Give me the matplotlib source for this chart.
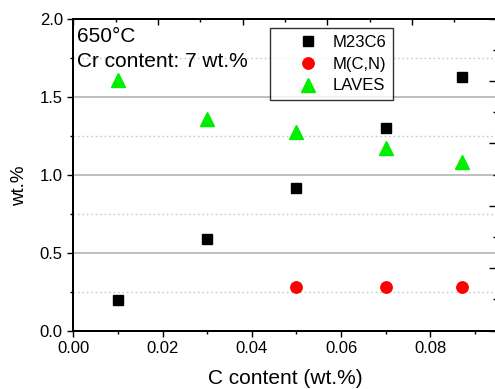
import matplotlib
matplotlib.use("Agg")
import matplotlib.pyplot as plt
from matplotlib.ticker import MultipleLocator, NullFormatter

plt.rcParams['font.family'] = ['Liberation Sans', 'DejaVu Sans']

c_all = [0.01, 0.03, 0.05, 0.07, 0.087]
m23c6 = [0.197, 0.586, 0.915, 1.30, 1.628]
c_mcn = [0.05, 0.07, 0.087]
mcn = [0.278, 0.278, 0.278]
laves = [1.61, 1.36, 1.272, 1.168, 1.08]

fig = plt.figure(figsize=(4.95, 3.89), dpi=100)
ax = fig.add_axes([0.148, 0.150, 0.855, 0.802])

ax.set_xlim(0, 0.0948)
ax.set_ylim(0, 2.0)

# horizontal grid: solid at major, dotted at minor
for y in [0.5, 1.0, 1.5]:
    ax.axhline(y, color='#b4b4b4', lw=1.2, zorder=0)
for y in [0.25, 0.75, 1.25, 1.75]:
    ax.axhline(y, color='#c8c8c8', lw=1.0, ls=(0, (1.2, 2.0)), zorder=0)

ax.plot(c_all, m23c6, ls='none', marker='s', ms=7.0, color='black', label='M23C6', zorder=3)
ax.plot(c_mcn, mcn, ls='none', marker='o', ms=8.2, color='red', label='M(C,N)', zorder=3)
ax.plot(c_all, laves, ls='none', marker='^', ms=9.5, color='#00ee00', label='LAVES', zorder=3)

ax.xaxis.set_major_locator(MultipleLocator(0.02))
ax.xaxis.set_minor_locator(MultipleLocator(0.01))
ax.yaxis.set_major_locator(MultipleLocator(0.5))
ax.yaxis.set_minor_locator(MultipleLocator(0.25))
ax.xaxis.set_major_formatter(plt.FuncFormatter(lambda v, p: f"{v:.2f}"))
ax.yaxis.set_major_formatter(plt.FuncFormatter(lambda v, p: f"{v:.1f}"))
ax.tick_params(axis='both', which='major', direction='out', length=4, width=1, labelsize=12,
               colors='black', pad=3.5)
ax.tick_params(axis='both', which='minor', direction='out', length=2.5, width=1)
ax.tick_params(top=False, right=False, which='both')

for s in ['left', 'bottom', 'top', 'right']:
    ax.spines[s].set_linewidth(1.3)

ax.set_xlabel('C content (wt.%)', fontsize=15, labelpad=9)
ax.set_ylabel('wt.%', fontsize=13.5)
ax.yaxis.set_label_coords(-0.106, 0.465)

ax.text(0.008, 0.926, '650°C', transform=ax.transAxes, fontsize=15, va='baseline', ha='left')
ax.text(0.008, 0.846, 'Cr content: 7 wt.%', transform=ax.transAxes, fontsize=15, va='baseline', ha='left')

leg = ax.legend(loc='upper left', bbox_to_anchor=(0.466, 0.969), fontsize=12, frameon=True,
                fancybox=False, edgecolor='black', handletextpad=-0.38, borderpad=0.4,
                labelspacing=0.4, handlelength=3.7, borderaxespad=0)
leg.get_frame().set_linewidth(1.0)

# secondary scales on the top and right edges (inward ticks, no labels)
axt = ax.twiny()
axt.set_xlim(0, 5)
axt.xaxis.set_major_locator(MultipleLocator(1))
axt.xaxis.set_minor_locator(MultipleLocator(0.5))
axt.xaxis.set_major_formatter(NullFormatter())
axt.tick_params(axis='x', which='major', direction='in', length=4, width=1)
axt.tick_params(axis='x', which='minor', direction='in', length=2.5, width=1)
axt.tick_params(left=False, right=False, labelleft=False, labelright=False)

axr = ax.twinx()
axr.set_ylim(0, 2.0)
axr.yaxis.set_major_locator(MultipleLocator(0.4))
axr.yaxis.set_minor_locator(MultipleLocator(0.2))
axr.yaxis.set_major_formatter(NullFormatter())
axr.tick_params(axis='y', which='major', direction='in', length=5, width=1)
axr.tick_params(axis='y', which='minor', direction='in', length=2.5, width=1)
for a in (axt, axr):
    for s in a.spines.values():
        s.set_linewidth(1.3)

fig.savefig('out.png', dpi=100)
